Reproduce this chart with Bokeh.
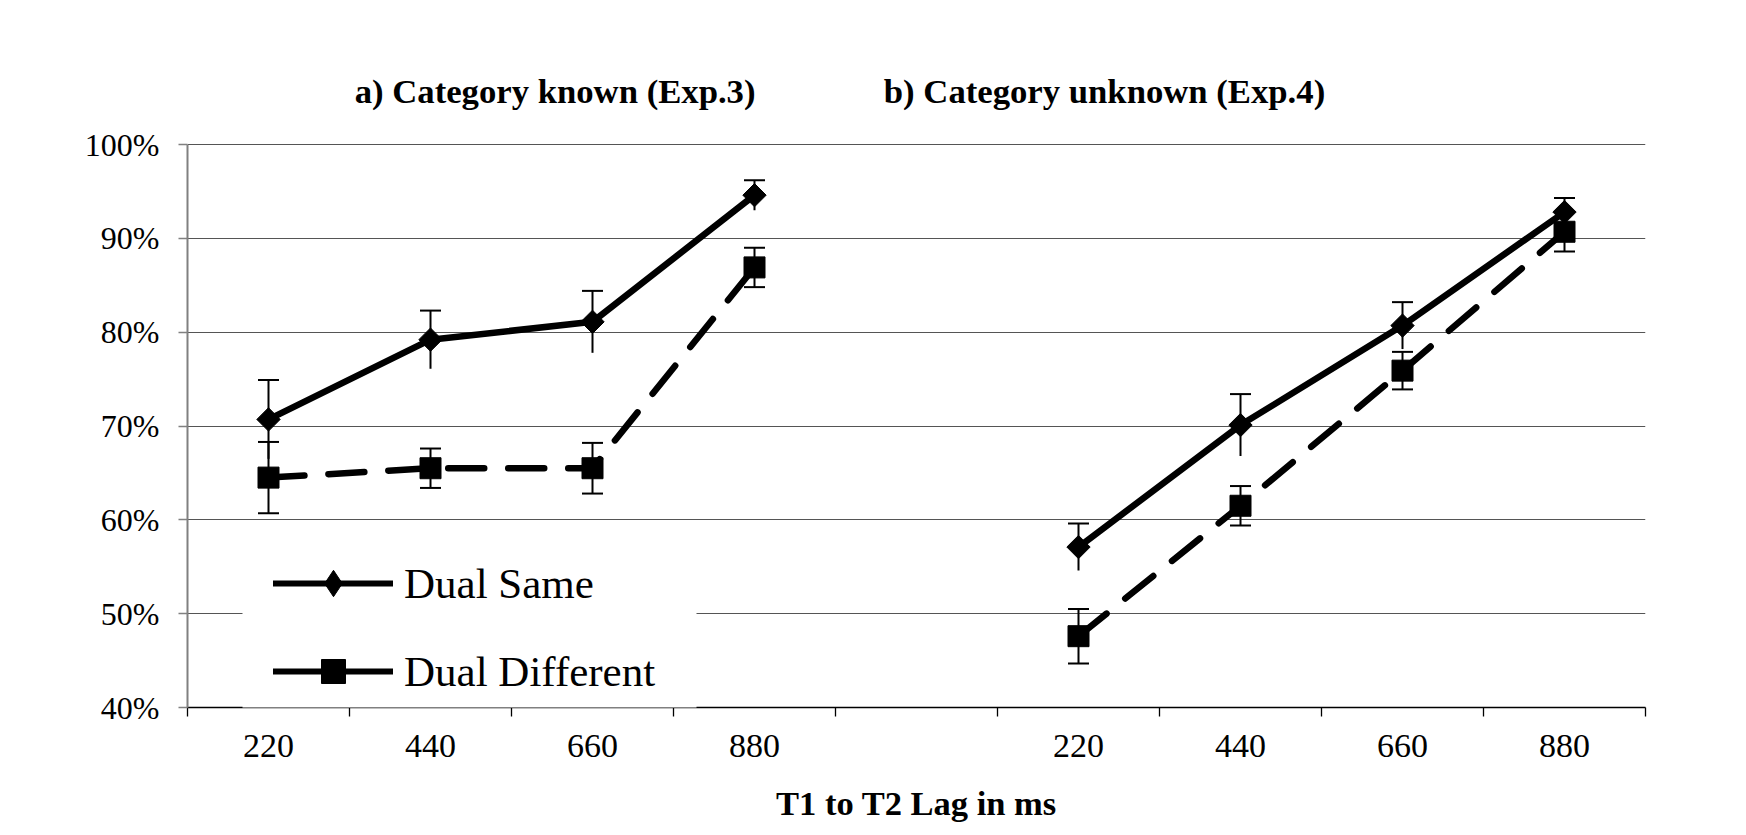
import numpy as np
from bokeh.plotting import figure
from bokeh.models import (FactorRange, Range1d, LinearAxis, FixedTicker, PrintfTickFormatter,
                          Whisker, TeeHead, ColumnDataSource, Legend, LegendItem,
                          BoxAnnotation, Label, Grid)
from bokeh.embed import file_html
from bokeh.resources import INLINE

# ---------------- data ----------------
lags = ["220", "440", "660", "880"]
panels = ["a", "b"]
titles = ["a) Category known (Exp.3)", "b) Category unknown (Exp.4)"]
x_label = "T1 to T2 Lag in ms"
series = ["Dual Same", "Dual Different"]

same_a = [70.7, 79.2, 81.1, 94.6]
same_a_err = [4.2, 3.1, 3.3, 1.6]
diff_a = [64.5, 65.5, 65.5, 86.9]
diff_a_err = [3.8, 2.1, 2.7, 2.1]

same_b = [57.1, 70.1, 80.7, 92.8]
same_b_err = [2.5, 3.3, 2.5, 1.5]
diff_b = [47.6, 61.5, 75.9, 90.7]
diff_b_err = [2.9, 2.1, 2.0, 2.1]

y_ticks = [40, 50, 60, 70, 80, 90, 100]

# ---------------- layout ----------------
FONT = "Liberation Serif"
W, H = 1746, 835
FRAME_L, FRAME_R, FRAME_B = 187, 1645, 707     # pixel edges of the plotting area
PX_PER_PCT = (707 - 144) / 60.0                 # 40% at 707 px, 100% at 144 px
# the frame reaches the top of the canvas so that the panel titles fit inside it
y_top = 40 + FRAME_B / PX_PER_PCT

factors_a = [f"a {l}" for l in lags]
factors_b = [f"b {l}" for l in lags]
factors = factors_a + ["gap"] + factors_b
tick_text = lags + [""] + lags

p = figure(x_range=FactorRange(factors=factors, range_padding=0, factor_padding=0),
           y_range=Range1d(40, y_top),
           width=W, height=H, output_backend="svg", toolbar_location=None,
           x_axis_type=None, y_axis_type=None,
           min_border_left=FRAME_L, min_border_right=W - FRAME_R,
           min_border_top=0, min_border_bottom=H - FRAME_B)
p.outline_line_color = None
p.background_fill_color = "white"
p.border_fill_color = "white"

# y axis
yaxis = LinearAxis(ticker=FixedTicker(ticks=y_ticks), formatter=PrintfTickFormatter(format="%d%%"),
                   bounds=(40, 100),
                   axis_line_color="#808080", axis_line_width=2,
                   major_tick_out=9, major_tick_in=0, major_tick_line_color="#808080",
                   major_tick_line_width=1.5, minor_tick_line_color=None,
                   major_label_standoff=19, major_label_text_font=FONT,
                   major_label_text_font_size="32px", major_label_text_color="black")
p.add_layout(yaxis, "left")

# x axis: labels at category centres, tick marks at category boundaries
centers = [i + 0.5 for i in range(len(factors))]
bounds = [float(i) for i in range(len(factors) + 1)]
xaxis = LinearAxis(ticker=FixedTicker(ticks=centers, minor_ticks=bounds),
                   major_label_overrides={c: t for c, t in zip(centers, tick_text)},
                   axis_line_color="black", axis_line_width=1.3,
                   major_tick_out=9, major_tick_in=0, major_tick_line_color=None,
                   minor_tick_out=9, minor_tick_in=0, minor_tick_line_color="black",
                   minor_tick_line_width=1.3,
                   major_label_standoff=18, major_label_text_font=FONT,
                   major_label_text_font_size="34px", major_label_text_color="black",
                   axis_label=x_label, axis_label_standoff=24, axis_label_text_font=FONT,
                   axis_label_text_font_size="34.5px", axis_label_text_font_style="bold",
                   axis_label_text_color="black")
p.add_layout(xaxis, "below")

p.add_layout(Grid(dimension=1, ticker=yaxis.ticker, grid_line_color="#555555",
                  grid_line_width=1.2))

# ---------------- data marks ----------------
data = [(factors_a, same_a, same_a_err, diff_a, diff_a_err),
        (factors_b, same_b, same_b_err, diff_b, diff_b_err)]
for fx, s, se, d, de in data:
    src_s = ColumnDataSource(dict(base=fx, upper=[v + e for v, e in zip(s, se)],
                                  lower=[v - e for v, e in zip(s, se)]))
    src_d = ColumnDataSource(dict(base=fx, upper=[v + e for v, e in zip(d, de)],
                                  lower=[v - e for v, e in zip(d, de)]))
    p.add_layout(Whisker(base="base", upper="upper", lower="lower", source=src_s,
                         dimension="height", line_width=2, line_color="black",
                         upper_head=TeeHead(size=21, line_width=2, line_color="black"),
                         lower_head=None))
    p.add_layout(Whisker(base="base", upper="upper", lower="lower", source=src_d,
                         dimension="height", line_width=2, line_color="black",
                         upper_head=TeeHead(size=21, line_width=2, line_color="black"),
                         lower_head=TeeHead(size=21, line_width=2, line_color="black")))
    p.line(fx, s, line_width=6.5, line_color="black", line_join="round", line_cap="round")
    p.line(fx, d, line_width=6.5, line_color="black", line_dash="36 24", line_cap="round")
    p.scatter(fx, s, marker="square", angle=np.pi / 4, size=16.5, color="black")
    p.scatter(fx, d, marker="square", size=21, color="black")

# ---------------- titles ----------------
for tx, t in zip([554.6, 1104.0], titles):
    p.add_layout(Label(x=tx - FRAME_L, y=616, x_units="screen", y_units="screen",
                       text=t, text_align="center", text_baseline="alphabetic",
                       text_font=FONT, text_font_style="bold", text_font_size="34.7px",
                       text_color="black"))

# ---------------- legend ----------------
p.add_layout(BoxAnnotation(left=242 - FRAME_L, right=696 - FRAME_L, bottom=-8, top=FRAME_B - 540,
                           left_units="screen", right_units="screen",
                           bottom_units="screen", top_units="screen",
                           fill_color="white", fill_alpha=1, line_color=None,
                           level="annotation"))

# legend proxies (solid line + marker, no visible data points)
blank = [np.nan] * len(factors_a)
ls = p.line(factors_a, blank, line_width=6, line_color="black", line_cap="round")
ms = p.scatter(factors_a, blank, marker="diamond", color="black")
ld = p.line(factors_a, blank, line_width=6, line_color="black", line_cap="round")
md = p.scatter(factors_a, blank, marker="square", color="black")

common = dict(glyph_width=120, label_standoff=11, padding=0, margin=0, spacing=0,
              border_line_color=None, background_fill_alpha=0,
              label_text_font=FONT, label_text_font_size="43px", label_text_color="black")
leg1 = Legend(items=[LegendItem(label=series[0], renderers=[ls, ms])],
              location=(86, 91), glyph_height=66, label_height=66, **common)
leg2 = Legend(items=[LegendItem(label=series[1], renderers=[ld, md])],
              location=(86, 6), glyph_height=60, label_height=60, **common)
p.add_layout(leg1, "center")
p.add_layout(leg2, "center")

open("out.html", "w").write(file_html(p, INLINE))
